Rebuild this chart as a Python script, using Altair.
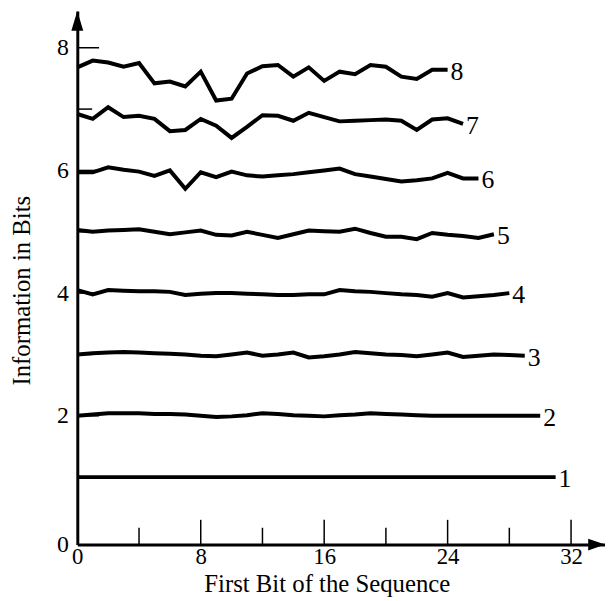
import altair as alt
import pandas as pd

FONT = "Liberation Serif"

# ---- data (x = first bit position 0 .. 32-k) ----
s1 = [1.00, 1.00, 1.00, 1.00, 1.00, 1.00, 1.00, 1.00, 1.00, 1.00, 1.00, 1.00, 1.00, 1.00, 1.00, 1.00,
      1.00, 1.00, 1.00, 1.00, 1.00, 1.00, 1.00, 1.00, 1.00, 1.00, 1.00, 1.00, 1.00, 1.00, 1.00, 1.00]
s2 = [2.00, 2.02, 2.04, 2.04, 2.04, 2.03, 2.03, 2.02, 2.00, 1.98, 1.99, 2.01, 2.04, 2.03, 2.01, 2.00,
      1.99, 2.01, 2.02, 2.04, 2.03, 2.02, 2.01, 2.00, 2.00, 2.00, 2.00, 2.00, 2.00, 2.00, 2.00]
s3 = [3.00, 3.02, 3.03, 3.04, 3.03, 3.02, 3.01, 3.00, 2.98, 2.97, 3.00, 3.03, 2.98, 3.00, 3.03, 2.95,
      2.97, 3.00, 3.04, 3.02, 3.00, 2.99, 2.97, 3.00, 3.03, 2.96, 2.98, 3.00, 2.99, 2.98]
s4 = [4.05, 3.98, 4.05, 4.04, 4.03, 4.03, 4.02, 3.97, 3.99, 4.00, 4.00, 3.99, 3.98, 3.97, 3.97, 3.98,
      3.98, 4.05, 4.03, 4.02, 4.00, 3.98, 3.97, 3.94, 4.00, 3.93, 3.95, 3.97, 4.00]
s5 = [5.03, 5.00, 5.02, 5.03, 5.04, 5.00, 4.96, 4.99, 5.02, 4.95, 4.94, 5.00, 4.95, 4.90, 4.96, 5.02,
      5.01, 5.00, 5.05, 4.98, 4.92, 4.92, 4.88, 4.98, 4.95, 4.93, 4.90, 4.96]
s6 = [5.97, 5.97, 6.05, 6.01, 5.98, 5.91, 6.00, 5.70, 5.97, 5.89, 5.98, 5.92, 5.90, 5.92, 5.94, 5.97,
      6.00, 6.03, 5.94, 5.90, 5.86, 5.82, 5.84, 5.87, 5.96, 5.87, 5.87]
s7 = [6.92, 6.84, 7.03, 6.87, 6.89, 6.84, 6.64, 6.66, 6.84, 6.73, 6.53, 6.71, 6.90, 6.89, 6.81, 6.94,
      6.87, 6.80, 6.81, 6.82, 6.83, 6.81, 6.66, 6.83, 6.85, 6.76]
s8 = [7.68, 7.79, 7.76, 7.69, 7.75, 7.42, 7.45, 7.37, 7.61, 7.14, 7.17, 7.58, 7.70, 7.72, 7.53, 7.68,
      7.46, 7.61, 7.57, 7.72, 7.69, 7.53, 7.49, 7.64, 7.64]

series = {"1": s1, "2": s2, "3": s3, "4": s4, "5": s5, "6": s6, "7": s7, "8": s8}

x_label_values = [0, 8, 16, 24, 32]
x_ticks_major = [8, 16, 24, 32]
x_ticks_minor = [4, 12, 20, 28]
y_floor = -0.1
y_label_values = [y_floor, 2, 4, 6, 8]
y_ticks_major = [2, 4, 6, 8]
y_ticks_minor = [1, 3, 5, 7]
x_max = 34.2
y_max = 8.6

rows = []
ends = []
for name, vals in series.items():
    for i, v in enumerate(vals):
        rows.append({"series": name, "x": i, "y": v})
    ends.append({"series": name, "x": len(vals) - 1, "y": vals[-1]})
df = pd.DataFrame(rows)
df_end = pd.DataFrame(ends)

W, H = 533, 539
xs = alt.Scale(domain=[0, x_max], nice=False, zero=False)
ys = alt.Scale(domain=[y_floor, y_max], nice=False, zero=False)

x_axis = alt.Axis(
    values=x_label_values, title="First Bit of the Sequence", grid=False,
    ticks=False, tickSize=0, domainColor="black", domainWidth=3,
    labelFont=FONT, labelFontSize=23, labelColor="black", labelPadding=1,
    labelFlush=False, labelOverlap=False,
    titleFont=FONT, titleFontSize=25, titleFontWeight="normal", titleColor="black",
    titleX=252, titleY=47, titleBaseline="alphabetic", titleAlign="center")
y_axis = alt.Axis(
    values=y_label_values, title="Information in Bits", grid=False,
    ticks=False, tickSize=0, domainColor="black", domainWidth=3,
    labelExpr="datum.value < 1 ? '0' : datum.label",
    labelFont=FONT, labelFontSize=24, labelColor="black", labelPadding=9,
    labelFlush=False, labelOverlap=False,
    titleFont=FONT, titleFontSize=25, titleFontWeight="normal", titleColor="black",
    titleAngle=270, titleX=-56, titleY=282, titleBaseline="middle", titleAlign="center")

X = alt.X("x:Q", scale=xs, axis=x_axis)
Y = alt.Y("y:Q", scale=ys, axis=y_axis)

lines = alt.Chart(df).mark_line(color="black", strokeWidth=4, strokeJoin="miter").encode(
    x=X, y=Y, detail="series:N")

labels = alt.Chart(df_end).mark_text(
    font=FONT, fontSize=26, color="black", align="left", baseline="middle", dx=3, dy=2
).encode(x=X, y=Y, text="series:N")

def yrule(vals, length):
    return alt.Chart(pd.DataFrame({"y": vals})).mark_rule(color="black", strokeWidth=1.5).encode(
        y=Y, x=alt.value(0), x2=alt.value(length))

def xrule(vals, length):
    return alt.Chart(pd.DataFrame({"x": vals})).mark_rule(color="black", strokeWidth=1.5).encode(
        x=X, y=alt.value(H), y2=alt.value(H - length))

arrow_x = alt.Chart(pd.DataFrame({"x": [x_max], "y": [y_floor]})).mark_point(
    shape="M0,0L-2,-0.7L-2,0.7Z", size=289, filled=True, color="black", opacity=1, strokeWidth=0
).encode(x=X, y=Y)

arrow_y = alt.Chart(pd.DataFrame({"x": [0], "y": [y_max]})).mark_point(
    shape="M0,0L-0.6,2L0.6,2Z", size=400, filled=True, color="black", opacity=1, strokeWidth=0
).encode(x=X, y=Y)

chart = alt.layer(
    lines, labels,
    yrule(y_ticks_major, 22), yrule(y_ticks_minor, 15),
    xrule(x_ticks_major, 25), xrule(x_ticks_minor, 17),
    arrow_x, arrow_y,
).properties(
    width=W, height=H,
    autosize=alt.AutoSizeParams(type="none"),
    padding={"left": 70, "top": 0, "right": 0, "bottom": 54},
    background="white",
).configure_view(strokeWidth=0)

chart.save("out.html", embed_options={"renderer": "svg", "actions": False})
